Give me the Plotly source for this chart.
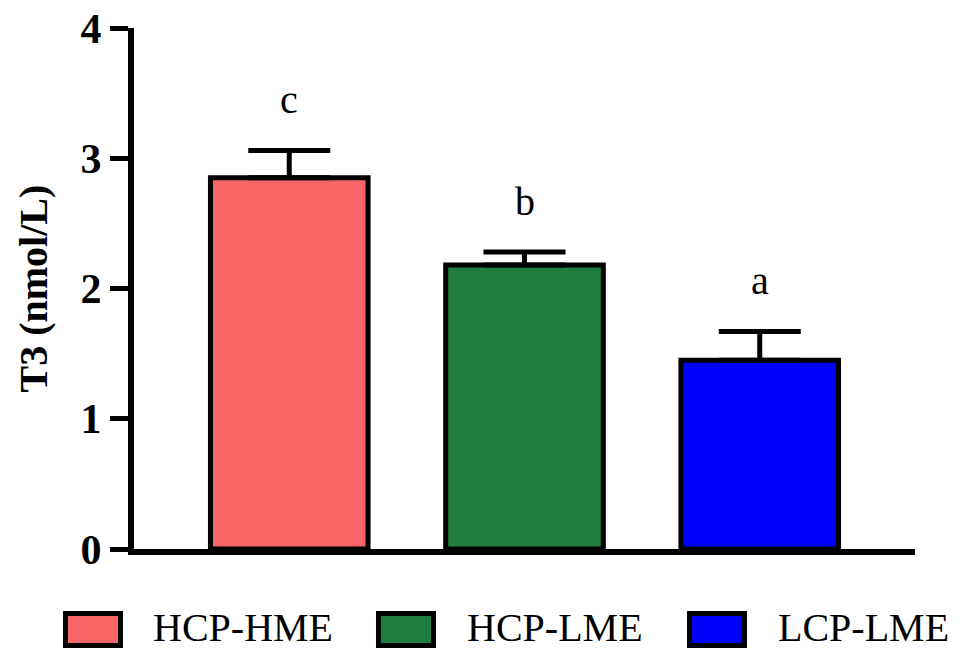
import plotly.graph_objects as go

# Group data: T3 concentration (mean, SEM) and significance letters
groups = ["HCP-HME", "HCP-LME", "LCP-LME"]
t3_mean = [2.85, 2.18, 1.45]
t3_sem = [0.21, 0.10, 0.22]
sig_letters = ["c", "b", "a"]
bar_colors = ["#F76567", "#1F7D3F", "#0000FF"]

y_ticks = [0, 1, 2, 3, 4]

W, H = 962, 651
M_L, M_R, M_T, M_B = 134, 47, 28, 102
PW, PH = W - M_L - M_R, H - M_T - M_B

FONT = "Liberation Serif, Times New Roman, serif"


def px_x(px):
    return (px - M_L) / PW


def px_y(py):
    return (H - M_B - py) / PH


fig = go.Figure()
fig.add_trace(go.Bar(
    x=list(range(len(groups))),
    y=t3_mean,
    width=0.67,
    marker=dict(color=bar_colors, line=dict(color="black", width=5)),
    error_y=dict(type="data", array=t3_sem, symmetric=False,
                 arrayminus=[0] * len(t3_sem),
                 color="black", thickness=5, width=41),
    showlegend=False,
))

# significance letters above the error bars
for i, (m, s, lab) in enumerate(zip(t3_mean, t3_sem, sig_letters)):
    fig.add_annotation(x=i, y=m + s, text=lab, showarrow=False,
                       xanchor="center", yanchor="bottom", yshift=26,
                       font=dict(family=FONT, size=40, color="black"))

# legend drawn as boxes with labels below the plot
legend_box_left = [65.5, 378.5, 689.5]
legend_text_left = [151, 465, 776]
for name, col, bx, tx in zip(groups, bar_colors, legend_box_left, legend_text_left):
    fig.add_shape(type="rect", xref="paper", yref="paper",
                  x0=px_x(bx), x1=px_x(bx + 55), y0=px_y(645.5), y1=px_y(613.5),
                  fillcolor=col, line=dict(color="black", width=5))
    fig.add_annotation(xref="paper", yref="paper", x=px_x(tx), y=px_y(627),
                       text=name, showarrow=False, xanchor="left", yanchor="middle",
                       font=dict(family=FONT, size=40, color="black"))

# axis title placed by hand, rotated, left of the tick labels
fig.add_annotation(xref="paper", yref="paper", x=px_x(33), y=0.5,
                   text="<b>T3 (nmol/L)</b>", textangle=-90, showarrow=False,
                   xanchor="center", yanchor="middle",
                   font=dict(family=FONT, size=40, color="black"))

fig.update_layout(
    width=W, height=H,
    margin=dict(l=M_L, r=M_R, t=M_T, b=M_B, pad=0, autoexpand=False),
    plot_bgcolor="white", paper_bgcolor="white",
    xaxis=dict(range=[-0.66, 2.66], showticklabels=False, ticks="",
               showline=True, linecolor="black", linewidth=6,
               showgrid=False, zeroline=False, fixedrange=True,
               automargin=False),
    yaxis=dict(range=[0, 4], tickvals=y_ticks, ticktext=[str(v) for v in y_ticks],
               ticks="outside", ticklen=18, tickwidth=5, tickcolor="black",
               showline=True, linecolor="black", linewidth=6,
               showgrid=False, zeroline=False, automargin=False,
               tickfont=dict(family=FONT, size=42, color="black", weight="bold")),
)

fig.write_html("out.html")
